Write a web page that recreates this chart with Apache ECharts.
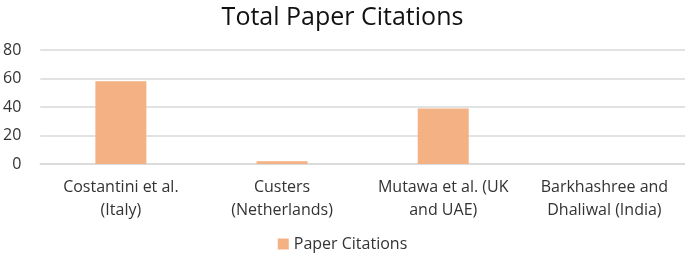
<!DOCTYPE html>
<html><head><meta charset="utf-8">
<script src="https://cdn.jsdelivr.net/npm/echarts@6/dist/echarts.min.js"></script>
<style>html,body{margin:0;padding:0;background:#fff}#c{width:685px;height:258px}</style>
</head><body><div id="c"></div>
<script>
const categories = ["Costantini et al.\n(Italy)", "Custers\n(Netherlands)", "Mutawa et al. (UK\nand UAE)", "Barkhashree and\nDhaliwal (India)"];
const citations = [58, 2, 39, 0];
const yTicks = [0, 20, 40, 60, 80];
const chart = echarts.init(document.getElementById('c'));
const font = 'Open Sans';
chart.setOption({
  animation: false,
  title: {text: 'Total Paper Citations', left: 'center', top: 0,
    textStyle: {fontFamily: font, fontSize: 25, fontWeight: 'normal', color: '#111'}},
  legend: {bottom: 1, left: 'center', itemWidth: 11, itemHeight: 11, icon: 'rect',
    textStyle: {fontFamily: font, fontSize: 16, color: '#333'}},
  grid: {left: 36, right: 0, top: 50, bottom: 94},
  xAxis: {type: 'category', data: categories,
    axisLine: {lineStyle: {color: '#d9d9d9', width: 1.5}}, axisTick: {show: false},
    axisLabel: {fontFamily: font, fontSize: 16, color: '#333', lineHeight: 23, margin: 12, interval: 0}},
  yAxis: {type: 'value', min: yTicks[0], max: yTicks[yTicks.length-1], interval: 20,
    axisLine: {show: false}, axisTick: {show: false},
    splitLine: {lineStyle: {color: '#d9d9d9', width: 1.5}},
    axisLabel: {fontFamily: font, fontSize: 16, color: '#333', margin: 19}},
  series: [{name: 'Paper Citations', type: 'bar', data: citations, barWidth: 51,
    itemStyle: {color: '#F4B183'}}]
});
</script></body></html>
